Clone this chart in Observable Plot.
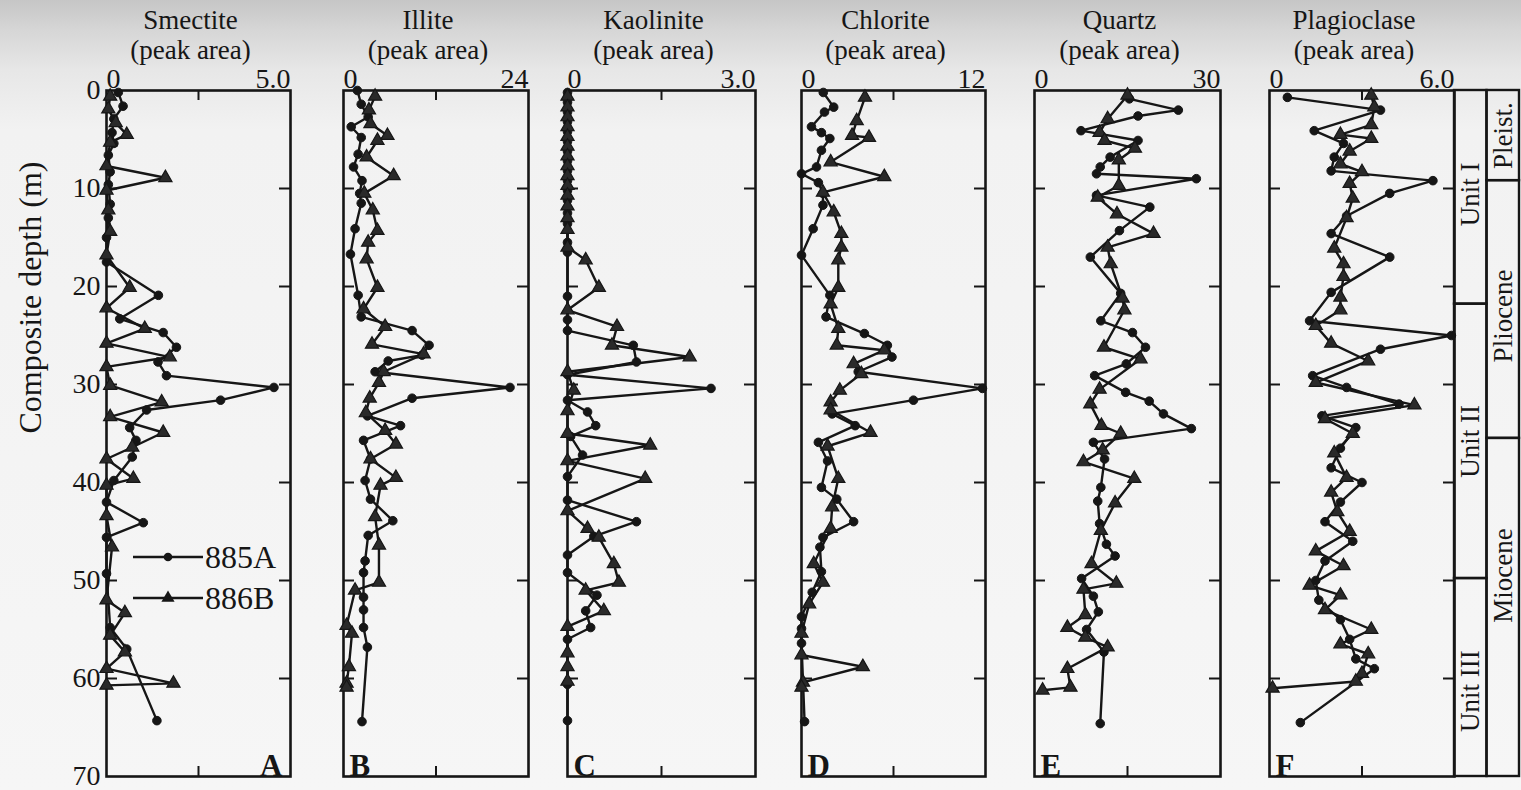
<!DOCTYPE html>
<html>
<head>
<meta charset="utf-8">
<script src="https://cdn.jsdelivr.net/npm/d3@7"></script>
<script src="https://cdn.jsdelivr.net/npm/@observablehq/plot@0.6"></script>
<style>
  html, body { margin: 0; padding: 0; }
  body {
    width: 1521px; height: 790px; overflow: hidden;
    background: linear-gradient(180deg, #c6c6c6 0px, #d6d6d6 30px, #e7e7e7 70px, #f2f2f2 130px, #f6f6f6 100%);
    font-family: "Liberation Serif", "DejaVu Serif", serif;
    color: #141414;
  }
  #chart { position: relative; width: 1521px; height: 790px; }
  #chart svg { position: absolute; top: 0; overflow: visible; }
</style>
</head>
<body>
<div id="chart"></div>
<script>
// ---- Data: composite depth (m) and XRD peak area, Sites 885A and 886B ----
const minerals = ["Smectite", "Illite", "Kaolinite", "Chlorite", "Quartz", "Plagioclase"];
const xMax = [5, 24, 3, 12, 30, 6];
const xMaxLabels = ["5.0", "24", "3.0", "12", "30", "6.0"];
const panelLetters = ["A", "B", "C", "D", "E", "F"];
const depthTicks = [0, 10, 20, 30, 40, 50, 60, 70];
const sites = ["885A", "886B"];

// [depth, peak area]
const smectite885A = [[0.2,0.32],[1.6,0.45],[2.9,0.2],[4.3,0.15],[5.4,0.2],[6.6,0.05],[8.3,0.1],[9.6,0.05],[11.6,0.1],[13.0,0.05],[15.0,0],[17.5,0],[20.9,1.41],[23.3,0.36],[24.7,1.54],[26.2,1.9],[27.7,1.4],[29.1,1.63],[30.3,4.55],[31.6,3.1],[32.6,1.09],[34.4,0.63],[35.7,0.8],[37.4,0.7],[39.8,0.2],[42.0,0],[44.1,1.0],[45.6,0],[49.3,0],[54.8,0.1],[57.0,0.55],[64.3,1.37]];
const smectite886B = [[0.6,0.1],[1.9,0.05],[3.3,0.25],[4.5,0.55],[5.3,0.1],[7.7,0],[8.9,1.6],[10.2,0],[12.2,0.05],[14.4,0.1],[16.8,0],[20.1,0.63],[22.2,0],[24.3,1.04],[25.8,0],[27.2,1.72],[28.2,0],[30.1,0.1],[31.8,1.5],[33.3,0.1],[34.9,1.54],[36.4,0.7],[37.6,0],[39.6,0.73],[40.3,0],[43.4,0],[46.6,0.15],[52.0,0],[53.3,0.5],[55.6,0.1],[57.3,0.5],[59.0,0],[60.5,1.82],[60.7,0]];

const illite885A = [[0.0,1.8],[1.4,2.3],[2.7,3.2],[3.7,1.0],[4.8,2.3],[6.5,1.9],[7.8,1.3],[9.2,2.4],[10.5,2.1],[11.5,2.3],[14.1,1.5],[16.7,0.9],[20.9,1.9],[23.1,2.3],[24.5,8.9],[26.0,11.1],[27.0,10.2],[27.6,5.8],[28.7,4.1],[30.3,21.6],[31.4,8.9],[33.2,3.1],[34.2,7.4],[35.7,2.6],[37.6,3.5],[39.8,2.8],[41.7,3.5],[43.9,6.4],[45.4,3.2],[48.0,2.8],[49.2,2.6],[51.7,2.6],[53.0,2.6],[54.8,2.6],[56.8,3.1],[64.4,2.4]];
const illite886B = [[0.6,4.1],[2.0,3.3],[3.4,3.5],[4.6,5.7],[5.1,4.4],[6.8,3.0],[8.7,6.5],[10.5,2.7],[12.2,3.8],[14.3,4.4],[15.5,3.2],[17.2,3.0],[20.1,4.4],[22.3,2.6],[24.1,5.4],[25.9,3.7],[26.9,10.4],[28.7,5.2],[29.8,4.6],[31.4,3.4],[32.9,2.9],[34.7,5.4],[36.1,6.8],[37.6,3.5],[39.5,6.8],[40.3,4.8],[43.5,4.1],[46.4,4.6],[50.2,4.6],[51.0,1.5],[54.6,0.4],[55.4,1.1],[58.8,0.7],[60.5,0.4],[60.9,0.4]];

const kaolinite885A = [[0.2,0],[1.2,0],[2.2,0],[3.2,0],[4.2,0],[5.2,0],[6.2,0],[7.2,0],[8.2,0],[9.2,0],[10.2,0],[11.2,0],[12.5,0],[13.6,0],[15.5,0],[16.5,0],[21.0,0],[23.4,0],[24.5,0],[26.0,1.05],[27.7,1.1],[29.0,0],[30.4,2.29],[31.6,0],[32.8,0.32],[34.2,0.45],[35.3,0.05],[37.2,0.24],[39.4,0],[41.8,0],[44.0,1.1],[45.5,0.42],[47.4,0],[49.2,0],[51.5,0.47],[53.1,0.29],[54.8,0.37],[56.0,0],[60.6,0],[64.3,0]];
const kaolinite886B = [[0.6,0],[1.7,0],[2.7,0],[3.7,0],[4.7,0],[5.7,0],[6.7,0],[7.7,0],[8.7,0],[9.7,0],[10.7,0],[11.8,0],[13.0,0],[14.2,0],[16.0,0],[17.3,0.29],[20.1,0.5],[22.4,0],[24.1,0.79],[26.0,0.71],[27.2,1.95],[28.7,0],[30.6,0.1],[32.7,0],[35.0,0],[36.2,1.32],[37.8,0],[39.6,1.24],[42.9,0],[44.7,0.32],[45.6,0.5],[48.3,0.74],[50.2,0.82],[51.0,0.29],[53.1,0.58],[54.7,0],[57.4,0],[58.8,0],[60.3,0]];

const chlorite885A = [[0.2,1.42],[1.7,2.1],[2.2,1.5],[3.7,0.65],[4.3,1.3],[4.9,1.85],[6.1,1.3],[7.8,0.98],[8.5,0],[9.4,1.1],[10.5,1.4],[11.7,1.4],[14.1,0.76],[16.8,0],[20.9,1.85],[23.1,1.6],[24.8,4.1],[26.0,5.6],[27.2,5.9],[28.7,3.7],[30.4,11.8],[31.6,7.3],[33.0,2.0],[34.2,3.5],[35.9,1.1],[37.8,1.7],[40.5,1.3],[41.7,2.3],[44.0,3.4],[45.6,1.4],[46.6,1.2],[49.1,1.3],[51.2,0.7],[53.7,0],[54.9,0],[56.4,0],[64.4,0.2]];
const chlorite886B = [[0.7,4.14],[3.1,3.6],[4.6,3.3],[4.8,4.4],[7.3,1.9],[8.8,5.4],[10.4,1.4],[12.4,2.1],[14.6,2.6],[16.0,2.6],[17.3,2.4],[20.1,2.4],[21.8,1.9],[24.3,2.4],[26.0,2.3],[26.5,5.4],[27.9,3.4],[28.9,3.9],[30.6,2.5],[31.8,1.9],[32.6,1.9],[34.9,4.5],[36.3,1.7],[39.6,2.4],[42.5,2.0],[44.7,1.9],[48.3,0.8],[50.2,1.4],[52.4,0.5],[55.4,0],[57.6,0],[58.8,4.0],[60.4,0.1],[60.9,0]];

const quartz885A = [[0.85,15.3],[2.0,23.2],[2.6,16.7],[4.1,7.5],[5.1,16.7],[6.8,12.2],[7.8,10.6],[8.5,10.0],[9.0,26.1],[10.7,10.0],[11.9,18.6],[14.3,13.7],[17.0,9.0],[20.7,13.9],[23.5,10.7],[24.7,15.8],[26.2,17.9],[27.9,14.8],[29.1,9.7],[30.8,14.7],[31.7,18.5],[33.0,20.8],[34.5,25.3],[35.9,9.5],[37.6,11.3],[40.5,10.7],[41.9,10.2],[44.2,10.5],[46.3,11.6],[47.5,13.0],[49.8,7.6],[51.6,9.5],[53.2,10.3],[55.0,8.4],[57.3,11.2],[64.6,10.6]];
const quartz886B = [[0.5,15.0],[2.9,11.8],[4.3,10.5],[5.1,11.3],[5.9,16.2],[7.1,13.6],[9.7,13.6],[10.9,10.2],[12.6,13.3],[14.6,19.2],[16.0,11.8],[17.7,12.3],[21.2,14.2],[22.4,14.5],[26.2,11.2],[27.4,17.1],[30.5,10.5],[32.0,9.0],[34.2,10.8],[35.0,13.9],[36.7,11.0],[37.9,7.9],[39.6,16.1],[42.1,13.0],[44.9,10.7],[48.3,9.2],[50.3,13.2],[50.9,7.9],[53.5,8.2],[54.8,5.3],[55.8,8.2],[56.8,11.8],[59.0,5.3],[60.9,5.8],[61.2,1.3]];

const plagioclase885A = [[0.7,0.58],[2.0,3.6],[4.1,1.45],[5.4,2.4],[6.8,2.1],[8.2,2.0],[9.2,5.3],[10.5,3.9],[12.8,2.5],[14.6,2.0],[17.0,3.9],[20.6,2.0],[23.5,1.3],[25.0,5.9],[26.4,3.6],[29.1,1.4],[30.3,2.5],[32.0,4.2],[33.2,1.7],[34.4,2.8],[36.5,2.3],[38.5,2.0],[40.0,3.0],[42.0,2.3],[44.0,1.8],[46.0,2.7],[48.0,1.8],[50.0,1.5],[52.0,1.6],[54.0,2.3],[56.0,2.6],[58.0,2.8],[59.0,3.4],[64.5,1.0]];
const plagioclase886B = [[0.5,3.3],[1.7,3.4],[3.5,3.3],[4.5,2.3],[4.9,3.3],[6.2,2.6],[7.5,2.3],[8.3,3.0],[9.5,2.6],[11.0,2.7],[13.0,2.5],[16.1,2.1],[17.7,2.4],[19.0,2.4],[21.1,2.3],[22.4,2.3],[24.0,1.5],[25.8,2.0],[27.6,3.2],[29.8,1.5],[32.1,4.7],[33.5,1.8],[35.0,2.7],[37.0,2.1],[39.5,2.5],[41.0,2.0],[43.0,2.2],[45.0,2.6],[47.0,1.5],[48.5,2.4],[50.5,1.3],[51.5,2.3],[53.0,1.8],[55.0,3.3],[56.5,2.3],[57.5,3.2],[59.5,3.0],[60.3,2.8],[61.0,0.1]];

const seriesByMineral = [
  [smectite885A, smectite886B],
  [illite885A, illite886B],
  [kaolinite885A, kaolinite886B],
  [chlorite885A, chlorite886B],
  [quartz885A, quartz886B],
  [plagioclase885A, plagioclase886B]
];

// Lithologic units and epochs (depth intervals, m)
const unitNames = ["Unit I", "Unit II", "Unit III"];
const unitTops = [0, 21.8, 49.8];
const unitBases = [21.8, 49.8, 70];
const epochNames = ["Pleist.", "Pliocene", "Miocene"];
const epochTops = [0, 9.2, 35.5];
const epochBases = [9.2, 35.5, 70];
// depth at which each interval's name is centred
const unitLabelDepths = [10.6, 35.8, 61.3];
const epochLabelDepths = [4.6, 23.0, 49.5];

// ---- Layout ----
const ink = "#161616";
const FRAME_TOP = 90, FRAME_BOTTOM = 776, PAGE_H = 790;
const frameLeft = [106, 343, 567, 801, 1034, 1269];
const frameRight = [290, 528, 755, 985, 1220, 1454];
const stratLeft = 1454, stratRight = 1519;

const chart = document.getElementById("chart");
const baseStyle = {background: "transparent", fontFamily: "'Liberation Serif', serif", fontSize: "28px", color: ink, overflow: "visible"};

function panel(i) {
  const L = frameLeft[i], R = frameRight[i];
  const first = i === 0;
  const ml = first ? L : 24, mr = 24;
  const fw = R - L, fh = FRAME_BOTTOM - FRAME_TOP;
  const [a, b] = seriesByMineral[i];
  const vx = d => d[1], vy = d => d[0];
  const inner = depthTicks.slice(1, -1);
  const marks = [
    Plot.frame({stroke: ink, strokeWidth: 2.6}),
    Plot.tickY(inner, {y: d => d, stroke: ink, strokeWidth: 2, insetRight: fw - 11}),
    Plot.tickY(inner, {y: d => d, stroke: ink, strokeWidth: 2, insetLeft: fw - 11}),
    Plot.tickX([xMax[i] / 2], {x: d => d, stroke: ink, strokeWidth: 2, insetBottom: fh - 10}),
    Plot.tickX([xMax[i] / 2], {x: d => d, stroke: ink, strokeWidth: 2, insetTop: fh - 10}),
    Plot.axisX([0], {anchor: "top", tickSize: 0, tickPadding: 3, textAnchor: "start", label: null}),
    Plot.axisX([xMax[i]], {anchor: "top", tickSize: 0, tickPadding: 3, textAnchor: "end", tickFormat: () => xMaxLabels[i], label: null}),
    Plot.line(a, {x: vx, y: vy, stroke: ink, strokeWidth: 2.4}),
    Plot.line(b, {x: vx, y: vy, stroke: ink, strokeWidth: 2.4}),
    Plot.dot(a, {x: vx, y: vy, symbol: "circle", r: 4.3, fill: ink, stroke: ink, strokeWidth: 1}),
    Plot.dot(b, {x: vx, y: vy, symbol: "triangle", r: 4.9, fill: "#2a2a2a", stroke: ink, strokeWidth: 1.2}),
    // two-line title: mineral name over "(peak area)"
    Plot.text([minerals[i]], {frameAnchor: "top", lineAnchor: "bottom", dy: -62, dx: -8, fontSize: 27}),
    Plot.text(["(peak area)"], {frameAnchor: "top", lineAnchor: "bottom", dy: -32, dx: -8, fontSize: 27}),
    Plot.text([panelLetters[i]], {frameAnchor: first ? "bottom-right" : "bottom-left", lineAnchor: "bottom", dx: first ? -8 : 6, dy: -1, fontWeight: "bold", fontSize: 31})
  ];
  if (first) {
    marks.push(
      Plot.axisY(depthTicks, {anchor: "left", tickSize: 0, tickPadding: 6, label: null}),
      Plot.text(["Composite depth (m)"], {frameAnchor: "left", dx: -(L - 30), rotate: -90, fontSize: 32})
    );
  }
  const svg = Plot.plot({
    width: fw + ml + mr,
    height: PAGE_H,
    marginLeft: ml, marginRight: mr,
    marginTop: FRAME_TOP, marginBottom: PAGE_H - FRAME_BOTTOM,
    x: {domain: [0, xMax[i]], axis: null},
    y: {domain: [0, 70], reverse: true, axis: null},
    style: baseStyle,
    marks
  });
  svg.style.left = (L - ml) + "px";
  chart.appendChild(svg);
}

for (let i = 0; i < minerals.length; i++) panel(i);

// ---- Stratigraphic column: lithologic units and epochs ----
const units = unitNames.map((name, k) => ({name, top: unitTops[k], base: unitBases[k], at: unitLabelDepths[k]}));
const epochs = epochNames.map((name, k) => ({name, top: epochTops[k], base: epochBases[k], at: epochLabelDepths[k]}));
const strat = Plot.plot({
  width: stratRight - stratLeft + 4,
  height: PAGE_H,
  marginLeft: 2, marginRight: 2,
  marginTop: FRAME_TOP, marginBottom: PAGE_H - FRAME_BOTTOM,
  x: {domain: [0, 2], axis: null},
  y: {domain: [0, 70], reverse: true, axis: null},
  style: baseStyle,
  marks: [
    Plot.rect(units, {x1: 0, x2: 1, y1: "top", y2: "base", fill: "none", stroke: ink, strokeWidth: 2.4}),
    Plot.rect(epochs, {x1: 1, x2: 2, y1: "top", y2: "base", fill: "none", stroke: ink, strokeWidth: 2.4}),
    Plot.text(units, {x: 0.5, y: "at", text: "name", rotate: -90, fontSize: 27}),
    Plot.text(epochs, {x: 1.5, y: "at", text: "name", rotate: -90, fontSize: 27})
  ]
});
strat.style.left = (stratLeft - 2) + "px";
chart.appendChild(strat);

// ---- Legend (inside panel A) ----
const legend = d3.create("svg")
  .attr("width", 170).attr("height", 80)
  .style("left", "130px").style("top", "535px")
  .style("overflow", "visible");
const symbols = [d3.symbolCircle, d3.symbolTriangle];
const symbolSizes = [Math.PI * 4.3 * 4.3, Math.PI * 4.9 * 4.9];
sites.forEach((s, k) => {
  const g = legend.append("g").attr("transform", `translate(0,${22 + k * 41})`);
  g.append("line").attr("x1", 3).attr("x2", 73).attr("stroke", ink).attr("stroke-width", 2.3);
  g.append("path").attr("d", d3.symbol(symbols[k], symbolSizes[k])()).attr("transform", "translate(38,0)").attr("fill", ink);
  g.append("text").attr("x", 75).attr("y", 11).attr("font-size", 32)
    .attr("font-family", "'Liberation Serif', serif").attr("fill", ink).text(s);
});
chart.appendChild(legend.node());
</script>
</body>
</html>
